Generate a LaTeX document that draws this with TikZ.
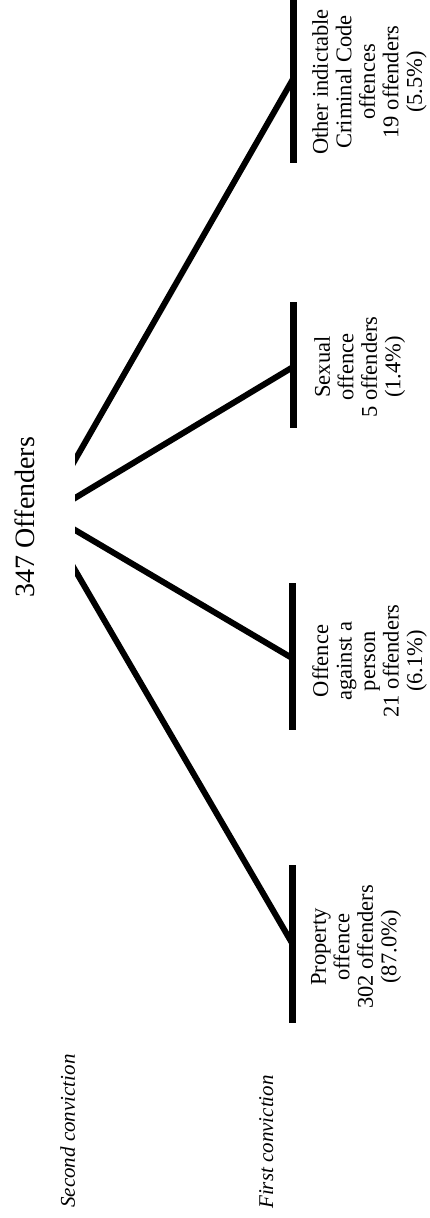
\documentclass[tikz,border=0pt]{standalone}
\usepackage{fontspec}
\setmainfont{Liberation Serif}
\usetikzlibrary{calc}
\begin{document}
\begin{tikzpicture}[x=1pt,y=-1pt,
  bar/.style={line width=7pt},
  branch/.style={line width=6pt},
  cat/.style={rotate=90, anchor=north, align=center, inner sep=0pt,
    font=\fontsize{22.5}{23.5}\selectfont},
  level/.style={rotate=90, anchor=north west, inner sep=0pt,
    font=\fontsize{21}{24}\selectfont\itshape}]
\useasboundingbox (0,0) rectangle (429,1218);

% root of the tree
\node[rotate=90, anchor=north, inner sep=0pt,
  font=\fontsize{28}{30}\selectfont] (root) at (15,517) {347 Offenders};

% start points of the four branches, next to the root
\coordinate (s1) at (75,460);
\coordinate (s2) at (75,498);
\coordinate (s3) at (75,530);
\coordinate (s4) at (75,570);

% bars for the first-conviction categories and where the branches meet them
\coordinate (b1a) at (293,0);   \coordinate (b1b) at (293,163); \coordinate (j1) at (293,79);
\coordinate (b2a) at (293,302); \coordinate (b2b) at (293,428); \coordinate (j2) at (293,367);
\coordinate (b3a) at (292,583); \coordinate (b3b) at (292,730); \coordinate (j3) at (292,658);
\coordinate (b4a) at (292,865); \coordinate (b4b) at (292,1023); \coordinate (j4) at (292,943);

\draw[bar] (b1a) -- (b1b);
\draw[bar] (b2a) -- (b2b);
\draw[bar] (b3a) -- (b3b);
\draw[bar] (b4a) -- (b4b);

% branches, cut straight at the root side
\begin{scope}
  \clip (75,0) rectangle (429,1218);
  \draw[branch] ($(s1)!-6pt!(j1)$) -- (j1);
  \draw[branch] ($(s2)!-6pt!(j2)$) -- (j2);
  \draw[branch] ($(s3)!-6pt!(j3)$) -- (j3);
  \draw[branch] ($(s4)!-6pt!(j4)$) -- (j4);
\end{scope}

% category labels
\node[cat] (other) at (312,82) {Other indictable\\Criminal Code\\offences\\19 offenders\\(5.5\%)};
\node[cat] (sexual) at (314,367) {Sexual\\offence\\5 offenders\\(1.4\%)};
\node[cat] (person) at (312,661) {Offence\\against a\\person\\21 offenders\\(6.1\%)};
\node[cat] (property) at (311,947) {Property\\offence\\302 offenders\\(87.0\%)};

% level captions
\node[level] (second) at (60,1208) {Second conviction};
\node[level] (first) at (259,1209) {First conviction};
\end{tikzpicture}
\end{document}
